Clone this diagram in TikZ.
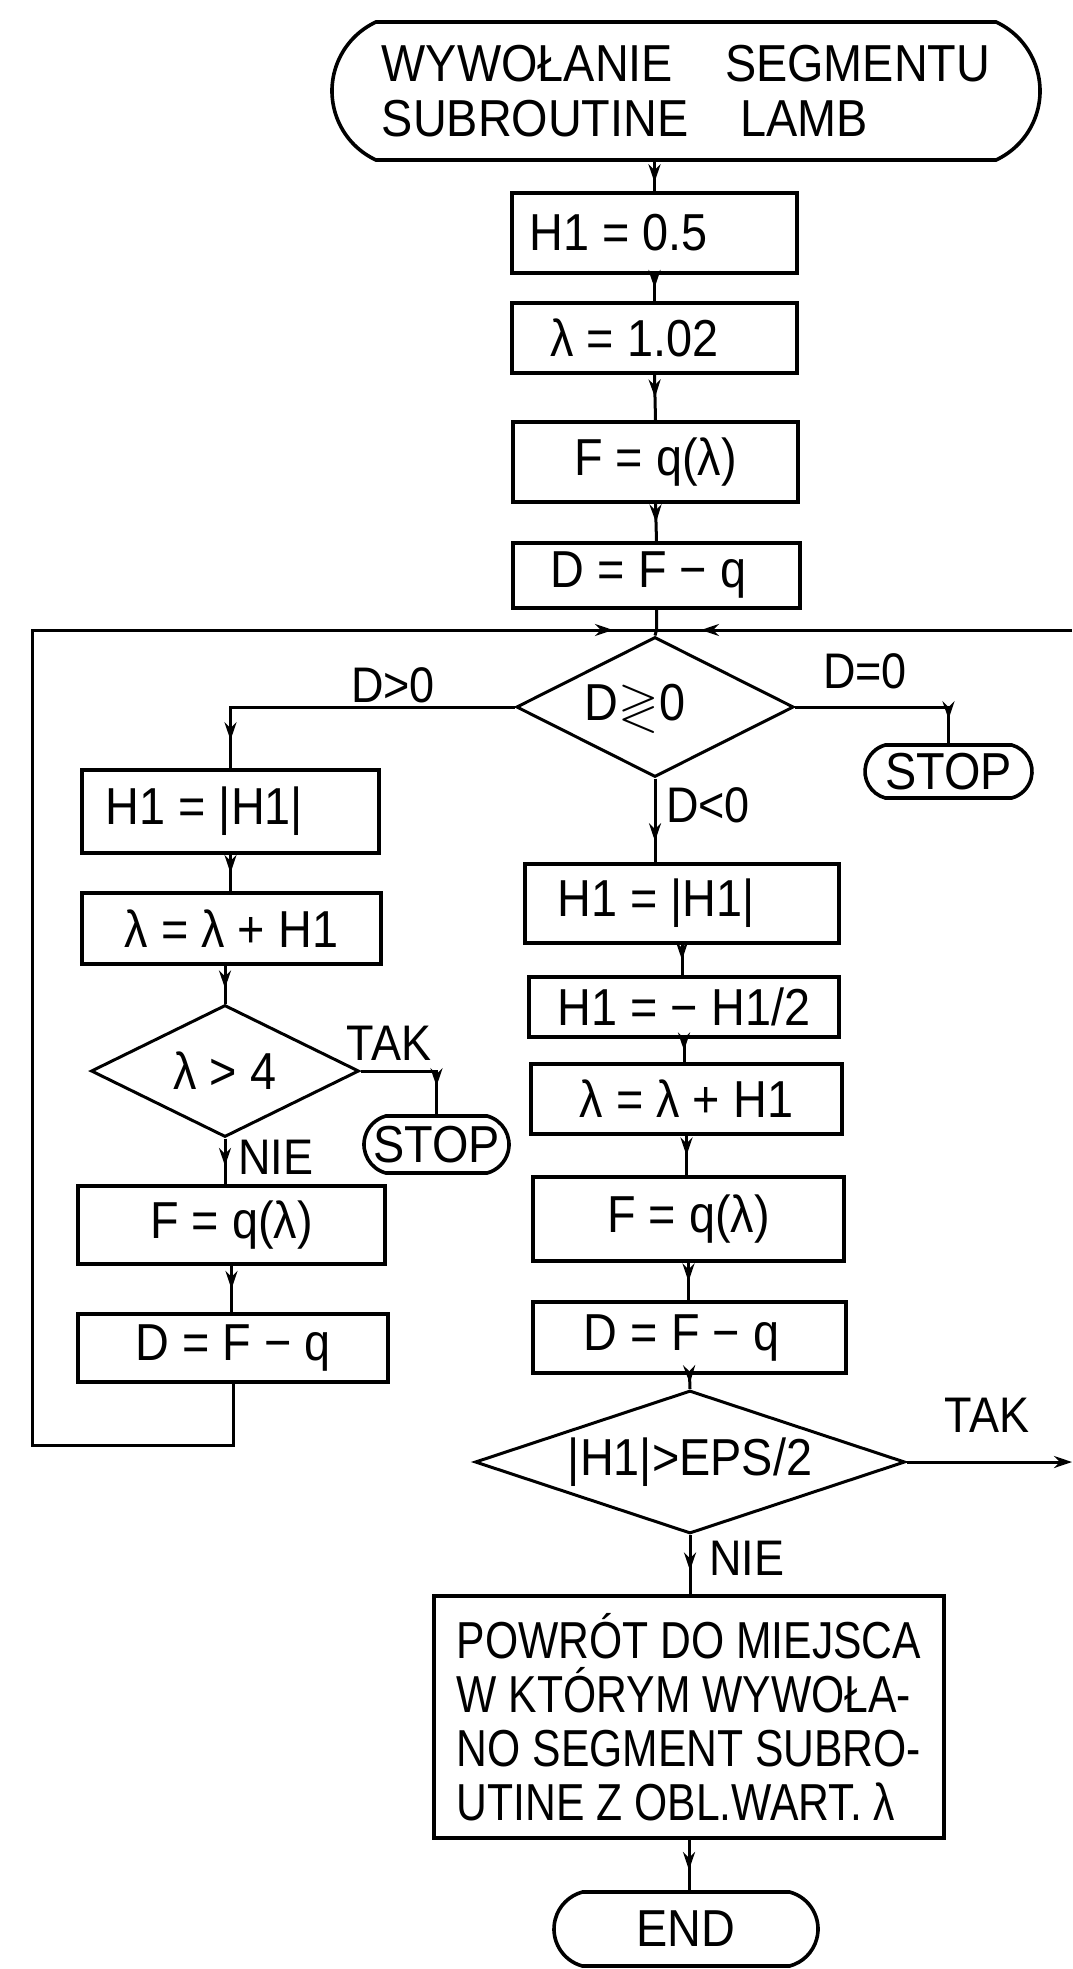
\documentclass[tikz,border=0pt]{standalone}
\usepackage{fontspec}
\usepackage{amssymb}
\setmainfont{Liberation Sans}
\newfontfamily\lett[FakeStretch=0.9]{Liberation Sans}
\newfontfamily\lettn[FakeStretch=0.82]{Liberation Sans}
\usetikzlibrary{shapes.geometric,shapes.misc,arrows.meta,decorations.markings}
\begin{document}
\begin{tikzpicture}[x=0.5pt,y=-0.5pt,
  box/.style={draw,line width=1.8pt,inner sep=0pt,font=\lett\fontsize{26}{28}\selectfont},
  term/.style={rounded rectangle,rounded rectangle arc length=150,draw,line width=1.8pt,inner sep=0pt,font=\lett\fontsize{26}{27.5}\selectfont},
  dia/.style={diamond,aspect=3,draw,line width=1.5pt,inner sep=0pt,font=\lett\fontsize{26}{28}\selectfont},
  lab/.style={inner sep=0pt,font=\lett\fontsize{25}{26}\selectfont},
  conn/.style={line width=1.5pt},
  ar/.style={postaction={decorate},decoration={markings,mark=at position #1 with {\arrow{Stealth[length=9pt,width=6pt]}}}},
  ar/.default=0.6]
\fill[white] (0,0) rectangle (1072,1969);
\useasboundingbox (0,0) rectangle (1072,1969);

% main column
\node[term,rounded rectangle arc length=130,minimum width=354pt,minimum height=69pt,align=left] (start) at (686,91)
  {WYWOŁANIE\quad SEGMENTU\\SUBROUTINE\quad LAMB};
\node[box,minimum width=142.5pt,minimum height=40pt] (b1) at (654.5,233) {H1 = 0.5\hspace*{36pt}};
\node[box,minimum width=142.5pt,minimum height=35pt] (b2) at (654.5,338) {λ = 1.02\hspace*{20pt}};
\node[box,minimum width=142.5pt,minimum height=40pt] (b3) at (655.5,462) {F = q(λ)};
\node[box,minimum width=143.5pt,minimum height=32.5pt] (b4) at (656.5,575.5) {D = F − q\hspace*{8pt}};
\coordinate (jn) at (657,630);
\node[dia,minimum width=135pt,minimum height=70pt] (d1) at (655,707) {D$\gtrless$0\hspace*{20pt}};
\node[term,minimum width=83.5pt,minimum height=26.5pt] (stop1) at (948.5,771.5) {STOP};

% left column
\node[box,minimum width=148.5pt,minimum height=41.5pt] (l1) at (230.5,811.5) {H1 = |H1|\hspace*{26pt}};
\node[box,minimum width=149.5pt,minimum height=35.5pt] (l2) at (231.5,928.5) {λ = λ + H1};
\node[dia,minimum width=134pt,minimum height=66pt] (ld) at (225,1071) {λ > 4};
\node[term,minimum width=72.5pt,minimum height=28.5pt] (stop2) at (436.5,1144.5) {STOP};
\node[box,minimum width=153.5pt,minimum height=39pt] (l3) at (231.5,1225) {F = q(λ)};
\node[box,minimum width=155pt,minimum height=34pt] (l4) at (233,1348) {D = F − q};

% centre column
\node[box,minimum width=157pt,minimum height=39.5pt] (c1) at (682,903.5) {H1 = |H1|\hspace*{26pt}};
\node[box,minimum width=155pt,minimum height=30pt] (c2) at (684,1007) {H1 = − H1/2};
\node[box,minimum width=155.5pt,minimum height=35pt] (c3) at (686.5,1099) {λ = λ + H1};
\node[box,minimum width=155.5pt,minimum height=42pt] (c4) at (688.5,1219) {F = q(λ)};
\node[box,minimum width=156.5pt,minimum height=35.5pt] (c5) at (689.5,1337.5) {D = F − q\hspace*{8pt}};
\node[dia,minimum width=215pt,minimum height=71.5pt] (d3) at (690,1462) {|H1|>EPS/2};
\node[box,minimum width=255pt,minimum height=121pt,align=left,font=\lettn\fontsize{26}{27}\selectfont] (ret) at (689,1717)
  {POWRÓT DO MIEJSCA\\W KTÓRYM WYWOŁA-\\NO SEGMENT SUBRO-\\UTINE Z OBL.WART. λ};
\node[term,minimum width=132pt,minimum height=37pt] (end) at (686,1929) {END};

% labels
\node[lab] (lab1) at (393,685) {D>0};
\node[lab] (lab2) at (865,671) {D=0};
\node[lab] (lab3) at (708,805) {D<0};
\node[lab] (lab4) at (389,1043) {TAK};
\node[lab] (lab5) at (276,1157) {NIE};
\node[lab] (lab6) at (987,1415) {TAK};
\node[lab] (lab7) at (747,1558) {NIE};

% loop coordinates
\coordinate (lb) at (32,1445);
\coordinate (lt) at (32,630);
\coordinate (rt) at (1072,630);
\coordinate (rb) at (1072,1462);

% connectors
\draw[conn,ar=0.7] (b1.north |- start.south) -- (b1.north);
\draw[conn,ar=0.5] (b1.south) -- (b2.north);
\draw[conn,ar=0.5] (b2.south) -- (b3.north);
\draw[conn,ar=0.5] (b3.south) -- (b4.north);
\draw[conn] (b4.south) -- (b4.south |- jn) -- (d1.north);
\draw[conn,ar=-22pt] (l4.south) |- (lb) -- (lt) -- (jn);
\draw[conn,ar=-22pt] (rt) -- (jn);
\draw[conn,ar=-14pt] (d1.west) -| (l1.north);
\draw[conn,ar=-12pt] (d1.east) -| (stop1.north);
\draw[conn,ar=0.75] (d1.south) -- (d1.south |- c1.north);
\draw[conn,ar=0.5] (l1.south) -- (l1.south |- l2.north);
\draw[conn,ar=0.6] (ld.north |- l2.south) -- (ld.north);
\draw[conn,ar=0.6] (ld.south) -- (ld.south |- l3.north);
\draw[conn,ar=0.5] (l3.south) -- (l3.south |- l4.north);
\draw[conn,ar=-14pt] (ld.east) -| (stop2.north);
\draw[conn,ar=0.5] (c1.south) -- (c1.south |- c2.north);
\draw[conn,ar=0.5] (c2.south) -- (c2.south |- c3.north);
\draw[conn,ar=0.5] (c3.south) -- (c3.south |- c4.north);
\draw[conn,ar=0.5] (c4.south) -- (c4.south |- c5.north);
\draw[conn,ar=0.6] (c5.south) -- (d3.north);
\draw[conn,ar=0.6] (d3.south) -- (d3.south |- ret.north);
\draw[conn,ar=0.6] (ret.south) -- (ret.south |- end.north);
\draw[conn,-{Stealth[length=9pt,width=6pt]}] (d3.east) -- (rb);
\end{tikzpicture}
\end{document}
